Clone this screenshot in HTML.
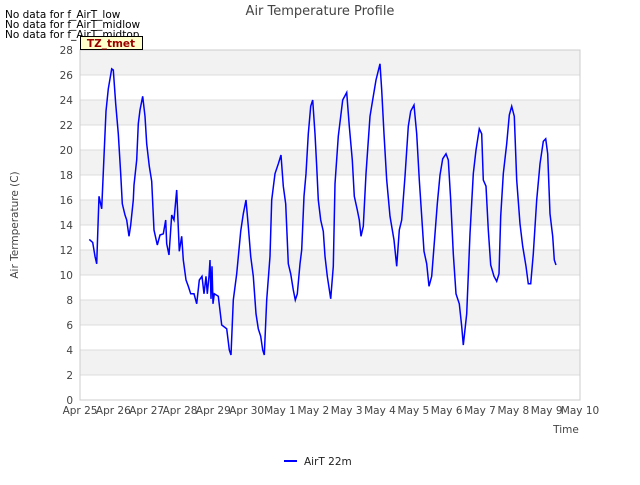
<!DOCTYPE html>
<html><head><meta charset="utf-8"><style>
body{margin:0;background:#fff;font-family:"Liberation Sans","DejaVu Sans",sans-serif}
svg text{font-family:"DejaVu Sans","Liberation Sans",sans-serif}
</style></head><body>
<svg id="chart" width="640" height="480" xmlns="http://www.w3.org/2000/svg">
<g id="bands"></g>
<g id="grid"></g>
<rect x="80" y="50" width="500" height="350" fill="none" stroke="#ccc"/>
<g id="yticks"></g>
<g id="xticks"></g>
<path id="series" fill="none" stroke="#0000ff" stroke-width="1.5"/>
<text x="320" y="15" text-anchor="middle" font-size="13" fill="#444">Air Temperature Profile</text>
<text transform="translate(18,225) rotate(-90)" text-anchor="middle" font-size="10.5" fill="#444">Air Termperature (C)</text>
<text x="566" y="433" text-anchor="middle" font-size="10.5" fill="#444">Time</text>
<text x="5" y="18" font-size="10.5" fill="#000">No data for f_AirT_low</text>
<text x="5" y="28" font-size="10.5" fill="#000">No data for f_AirT_midlow</text>
<text x="5" y="38" font-size="10.5" fill="#000">No data for f_AirT_midtop</text>
<rect x="80.5" y="36.5" width="62" height="13" fill="#ffffcc" stroke="#000"/>
<text x="111" y="47" text-anchor="middle" font-size="10.5" font-weight="bold" fill="#990000">TZ_tmet</text>
<line x1="284" y1="461" x2="297" y2="461" stroke="#0000ff" stroke-width="2"/>
<text x="304" y="465" font-size="10.5" fill="#222">AirT 22m</text>
</svg>
<script>
const xTickLabels=["Apr 25","Apr 26","Apr 27","Apr 28","Apr 29","Apr 30","May 1","May 2","May 3","May 4","May 5","May 6","May 7","May 8","May 9","May 10"];
const yTickValues=[0,2,4,6,8,10,12,14,16,18,20,22,24,26,28];
const days=[0.28,0.38,0.45,0.50,0.57,0.65,0.72,0.78,0.85,0.95,1.00,1.07,1.15,1.22,1.27,1.35,1.40,1.47,1.52,1.60,1.62,1.70,1.75,1.80,1.88,1.95,2.00,2.08,2.15,2.22,2.32,2.40,2.50,2.57,2.60,2.67,2.75,2.82,2.90,2.98,3.05,3.10,3.18,3.25,3.32,3.42,3.50,3.58,3.66,3.72,3.78,3.82,3.87,3.90,3.93,3.96,3.99,4.03,4.15,4.25,4.40,4.48,4.53,4.60,4.70,4.78,4.82,4.90,4.98,5.05,5.12,5.20,5.28,5.35,5.42,5.48,5.53,5.60,5.70,5.75,5.85,5.95,6.03,6.10,6.17,6.25,6.32,6.40,6.46,6.52,6.60,6.65,6.72,6.78,6.85,6.92,6.98,7.05,7.10,7.15,7.22,7.30,7.35,7.42,7.52,7.60,7.65,7.75,7.88,8.00,8.08,8.17,8.23,8.32,8.38,8.43,8.50,8.58,8.70,8.80,8.88,9.00,9.05,9.12,9.20,9.30,9.42,9.50,9.58,9.65,9.75,9.85,9.92,10.02,10.10,10.18,10.25,10.32,10.40,10.47,10.55,10.65,10.72,10.80,10.88,10.98,11.05,11.12,11.20,11.28,11.38,11.45,11.50,11.60,11.70,11.80,11.88,11.98,12.05,12.10,12.18,12.25,12.32,12.42,12.50,12.57,12.62,12.70,12.80,12.88,12.95,13.03,13.10,13.20,13.28,13.38,13.45,13.52,13.60,13.70,13.80,13.90,13.97,14.03,14.10,14.18,14.23,14.28];
const temps=[12.85,12.6,11.5,10.9,16.3,15.3,19.5,23.1,24.9,26.5,26.4,23.7,21.3,18.1,15.7,14.8,14.4,13.1,14,16,17.2,19.2,22.1,23.2,24.3,22.7,20.5,18.7,17.5,13.6,12.4,13.2,13.3,14.4,12.5,11.6,14.8,14.4,16.8,11.9,13.1,11.2,9.6,9.1,8.5,8.5,7.7,9.6,9.9,8.5,9.9,8.5,9.9,11.2,8.1,10.7,7.7,8.5,8.3,6,5.7,4,3.6,8,10.1,12.3,13.5,14.9,16,13.9,11.5,9.9,6.9,5.7,5.1,4,3.6,8,11.5,16,18.1,18.9,19.6,17.1,15.7,10.9,10.1,8.8,8,8.5,10.9,12,16.3,18.1,21.3,23.5,24,21.3,18.7,16,14.4,13.5,11.5,9.9,8.1,10.7,17.3,21.1,24,24.6,21.9,19.2,16.3,15.2,14.4,13.1,13.9,18.1,22.7,24.3,25.6,26.9,24.8,21.3,17.6,14.7,12.8,10.7,13.6,14.4,17.9,21.9,23.1,23.6,21.3,17.6,14.7,11.9,10.9,9.1,9.9,13.3,15.7,18,19.3,19.7,19.2,16,11.7,8.5,7.7,5.9,4.4,6.9,13.3,18.1,20,21.7,21.3,17.6,17.1,13.6,10.8,9.9,9.5,10.1,14.7,18.1,20.5,22.8,23.5,22.7,17.6,14.1,12.3,10.7,9.3,9.3,11.7,16,18.9,20.7,20.9,19.7,14.9,13.1,11.2,10.8];
const X0=80,X1=580,Y0=400,Y1=50,DMAX=15,TMAX=28;
const xs=d=>X0+(X1-X0)*d/DMAX;
const ys=v=>Y0-(Y0-Y1)*v/TMAX;
const NS="http://www.w3.org/2000/svg";
function mk(tag,attrs,parent){const e=document.createElementNS(NS,tag);for(const k in attrs)e.setAttribute(k,attrs[k]);parent.appendChild(e);return e;}
const bands=document.getElementById('bands'),grid=document.getElementById('grid'),yt=document.getElementById('yticks'),xt=document.getElementById('xticks');
for(let i=0;i<yTickValues.length-1;i++){
  const a=yTickValues[i],b=yTickValues[i+1];
  const r=mk('rect',{x:X0,y:ys(b),width:X1-X0,height:ys(a)-ys(b),fill:(i%2===1)?'#f2f2f2':'#ffffff'},bands);
  
  
}
yTickValues.forEach(v=>{
  const l=mk('line',{x1:X0,x2:X1,y1:ys(v),y2:ys(v),stroke:'#dcdcdc'},grid);
  
  
  const t=mk('text',{x:73,y:ys(v)+4,'text-anchor':'end','font-size':'10.5',fill:'#444'},yt);
  t.textContent=v;
  
  
});
xTickLabels.forEach((s,i)=>{
  const t=mk('text',{x:xs(i),y:414,'text-anchor':'middle','font-size':'10.5',fill:'#444'},xt);
  t.textContent=s;
  
  
});
let d='';
days.forEach((dv,i)=>{d+=(i?'L':'M')+xs(dv).toFixed(1)+','+ys(temps[i]).toFixed(1);});
document.getElementById('series').setAttribute('d',d);
</script>
</body></html>
